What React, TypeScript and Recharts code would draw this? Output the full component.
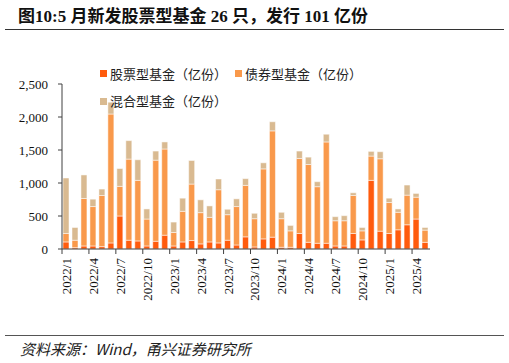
import React from 'react';
import { BarChart, Bar, XAxis, YAxis } from 'recharts';

const months = [
  '2022/1', '2022/2', '2022/3', '2022/4', '2022/5', '2022/6', '2022/7', '2022/8', '2022/9', '2022/10', '2022/11', '2022/12',
  '2023/1', '2023/2', '2023/3', '2023/4', '2023/5', '2023/6', '2023/7', '2023/8', '2023/9', '2023/10', '2023/11', '2023/12',
  '2024/1', '2024/2', '2024/3', '2024/4', '2024/5', '2024/6', '2024/7', '2024/8', '2024/9', '2024/10', '2024/11', '2024/12',
  '2025/1', '2025/2', '2025/3', '2025/4', '2025/5',
];

// 亿份
const stockFund = [
  107, 20, 46, 46, 36, 92, 500, 133, 122, 46, 117, 209,
  46, 107, 128, 77, 107, 92, 133, 61, 184, 31, 153, 179,
  26, 26, 235, 102, 87, 87, 46, 46, 235, 138, 1040, 270,
  235, 291, 367, 454, 101,
];
const bondFund = [
  128, 113, 719, 597, 775, 1953, 449, 1229, 918, 408, 1229, 1306,
  204, 464, 856, 474, 372, 806, 387, 582, 780, 428, 1061, 1611,
  433, 249, 1137, 1178, 857, 1535, 382, 382, 576, 137, 368, 1097,
  469, 265, 449, 331, 185,
];
const mixedFund = [
  841, 193, 357, 112, 97, 179, 270, 280, 312, 153, 138, 107,
  158, 199, 357, 194, 174, 163, 82, 117, 102, 82, 92, 138,
  97, 82, 112, 112, 76, 117, 62, 77, 41, 51, 71, 107,
  66, 51, 153, 57, 40,
];

const yTicks = [0, 500, 1000, 1500, 2000, 2500];

const data = months.map((m, i) => ({
  month: m,
  stock: stockFund[i],
  bond: bondFund[i],
  mixed: mixedFund[i],
}));

const COLORS = { stock: '#FF5B0D', bond: '#F9994B', mixed: '#D9BA91' };
const serif = '"Liberation Serif", "Times New Roman", "Noto Sans CJK SC", serif';
const cjk = '"Noto Sans CJK SC", sans-serif';

const MonthTick = (props: any) => {
  const { x, y, payload } = props;
  const band = 8.97;
  return (
    <g>
      <line x1={x - band / 2} y1={y} x2={x - band / 2} y2={y + 5} stroke="#404040" strokeWidth={1} />
      <text
        x={x}
        y={y + 9}
        transform={`rotate(-90, ${x}, ${y + 9})`}
        textAnchor="end"
        dominantBaseline="central"
        fontFamily={serif}
        fontSize={13}
        fill="#111"
      >
        {payload.value}
      </text>
    </g>
  );
};

const LegendBox = () => {
  const item = (color: string, label: string) => (
    <span style={{ display: 'inline-flex', alignItems: 'center', marginRight: 8 }}>
      <span style={{ width: 7, height: 7, background: color, display: 'inline-block', marginRight: 3 }} />
      <span>{label}</span>
    </span>
  );
  return (
    <div style={{ fontFamily: cjk, fontSize: 13, color: '#222', lineHeight: '26px' }}>
      <div>
        {item(COLORS.stock, '股票型基金（亿份）')}
        {item(COLORS.bond, '债券型基金（亿份）')}
      </div>
      <div>{item(COLORS.mixed, '混合型基金（亿份）')}</div>
    </div>
  );
};

export default function App() {
  return (
    <div style={{ position: 'absolute', left: 0, top: 0, width: 509, height: 363, background: '#fff' }}>
      <div
        style={{
          position: 'absolute',
          left: 18,
          top: 2,
          fontFamily: serif,
          fontWeight: 'bold',
          fontSize: 17,
          color: '#111',
          whiteSpace: 'nowrap',
        }}
      >
        图10:5 月新发股票型基金 26 只，发行 101 亿份
      </div>
      <div style={{ position: 'absolute', left: 5, top: 29, width: 499, height: 1, background: '#333' }} />

      <div style={{ position: 'absolute', left: 0, top: 0 }}>
        <BarChart
          width={509}
          height={363}
          data={data}
          margin={{ top: 84, right: 79, left: 0, bottom: 64 }}
          barSize={6}
        >
          <XAxis
            dataKey="month"
            interval={2}
            tickLine={false}
            tickSize={0}
            tickMargin={0}
            height={50}
            axisLine={{ stroke: '#404040' }}
            tick={<MonthTick />}
          />
          <YAxis
            width={62}
            domain={[0, 2500]}
            ticks={yTicks}
            tickSize={4}
            tickMargin={10}
            axisLine={{ stroke: '#404040' }}
            tickLine={{ stroke: '#404040' }}
            tick={{ fontFamily: serif, fontSize: 13, fill: '#111' }}
            tickFormatter={(v: number) => v.toLocaleString('en-US')}
          />
          <Bar dataKey="stock" stackId="a" fill={COLORS.stock} stroke="#fff" strokeWidth={0.5} isAnimationActive={false} />
          <Bar dataKey="bond" stackId="a" fill={COLORS.bond} stroke="#fff" strokeWidth={0.5} isAnimationActive={false} />
          <Bar dataKey="mixed" stackId="a" fill={COLORS.mixed} stroke="#fff" strokeWidth={0.5} isAnimationActive={false} />
        </BarChart>
      </div>

      <div style={{ position: 'absolute', left: 100, top: 59, width: 320 }}>
        <LegendBox />
      </div>

      <div style={{ position: 'absolute', left: 5, top: 335, width: 499, height: 1, background: '#555' }} />
      <div
        style={{
          position: 'absolute',
          left: 20,
          top: 338,
          fontFamily: cjk,
          fontStyle: 'italic',
          fontSize: 15,
          color: '#222',
          whiteSpace: 'nowrap',
        }}
      >
        资料来源：Wind，甬兴证券研究所
      </div>
    </div>
  );
}
